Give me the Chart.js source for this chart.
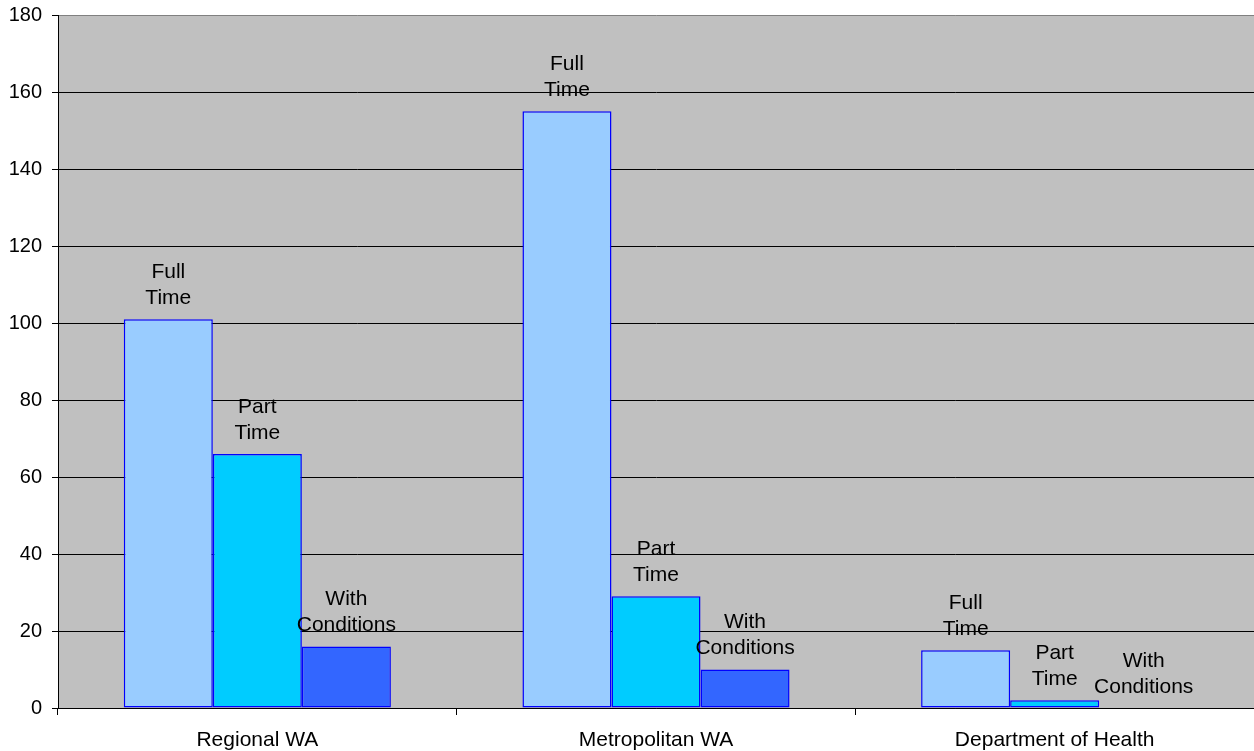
<!DOCTYPE html>
<html>
<head>
<meta charset="utf-8">
<script src="https://cdn.jsdelivr.net/npm/chart.js@4"></script>
<style>
  html, body { margin: 0; padding: 0; background: #ffffff; }
  #wrap { width: 1254px; height: 751px; }
</style>
</head>
<body>
<div id="wrap"><canvas id="c" width="1254" height="751"></canvas></div>
<script>
// Categories and series
const categories = ['Regional WA', 'Metropolitan WA', 'Department of Health'];
const seriesNames = ['Full Time', 'Part Time', 'With Conditions'];
const fullTime = [101, 155, 15];
const partTime = [66, 29, 2];
const withConditions = [16, 10, 0];
const yTicks = [0, 20, 40, 60, 80, 100, 120, 140, 160, 180];

const FONT = 'Arial, "Liberation Sans", sans-serif';

// Grey plot background
const plotBackground = {
  id: 'plotBackground',
  beforeDraw(chart) {
    const { ctx, chartArea: a } = chart;
    ctx.save();
    ctx.fillStyle = '#C0C0C0';
    ctx.fillRect(a.left, a.top, a.right - a.left, a.bottom - a.top);
    ctx.restore();
  }
};

// Two-line series name above each bar
const barLabels = {
  id: 'barLabels',
  afterDatasetsDraw(chart) {
    const { ctx } = chart;
    ctx.save();
    ctx.font = '21px ' + FONT;
    ctx.fillStyle = '#000000';
    ctx.textAlign = 'center';
    ctx.textBaseline = 'middle';
    chart.data.datasets.forEach((ds, di) => {
      const meta = chart.getDatasetMeta(di);
      meta.data.forEach((bar) => {
        const lines = ds.label.split(' ');
        const x = bar.x;
        const yBottom = bar.y - 21;
        ctx.fillText(lines[1], x, yBottom);
        ctx.fillText(lines[0], x, yBottom - 26);
      });
    });
    ctx.restore();
  }
};

const colors = ['#99CCFF', '#00CCFF', '#3366FF'];
const values = [fullTime, partTime, withConditions];

new Chart(document.getElementById('c'), {
  type: 'bar',
  data: {
    labels: categories,
    datasets: seriesNames.map((name, i) => ({
      label: name,
      data: values[i],
      backgroundColor: colors[i],
      borderColor: '#0000FF',
      borderWidth: 1.5,
      borderSkipped: false,
      categoryPercentage: 0.67,
      barPercentage: 1.0
    }))
  },
  options: {
    responsive: false,
    animation: false,
    devicePixelRatio: 1,
    layout: { padding: { top: 15, right: 0, left: 0, bottom: 0 } },
    plugins: {
      legend: { display: false },
      tooltip: { enabled: false }
    },
    scales: {
      x: {
        grid: {
          display: true,
          offset: true,
          drawOnChartArea: false,
          drawTicks: true,
          tickLength: 7,
          color: '#000000'
        },
        border: { display: true, color: '#000000', width: 1 },
        ticks: {
          color: '#000000',
          font: { family: FONT, size: 21 },
          padding: 13,
          maxRotation: 0
        },
        afterFit(scale) {
          scale.height = 43;
          scale.paddingLeft = 0;
          scale.paddingRight = 0;
        }
      },
      y: {
        min: 0,
        max: 180,
        afterBuildTicks(scale) { scale.ticks = yTicks.map(v => ({ value: v })); },
        grid: {
          color: (ctx) => (ctx.tick && ctx.tick.value === 180 ? '#808080' : '#000000'),
          tickColor: '#000000',
          tickLength: 6,
          lineWidth: 1
        },
        border: { display: true, color: '#000000', width: 1 },
        ticks: {
          color: '#000000',
          font: { family: FONT, size: 20 },
          padding: 10
        },
        afterFit(scale) {
          scale.width = 58;
          scale.paddingTop = 0;
          scale.paddingBottom = 0;
        }
      }
    }
  },
  plugins: [plotBackground, barLabels]
});
</script>
</body>
</html>
